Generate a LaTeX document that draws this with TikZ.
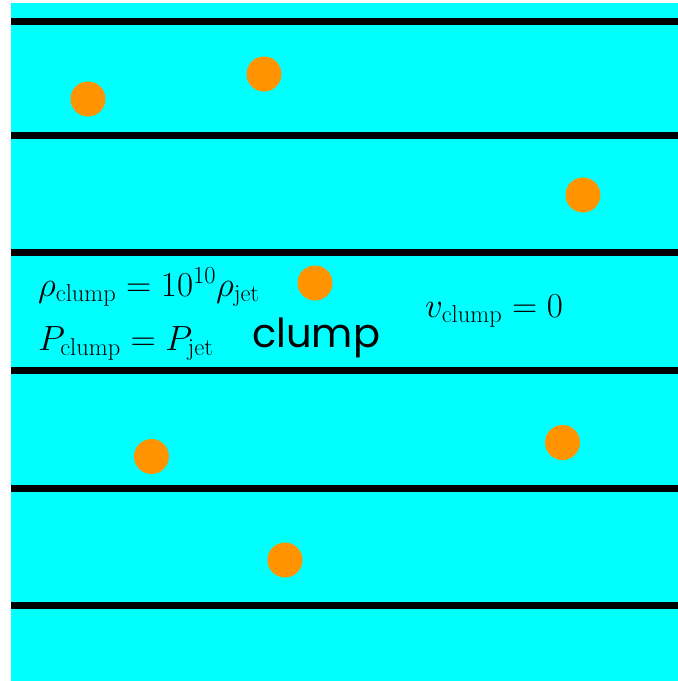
\RequirePackage{fix-cm}
\documentclass[tikz,border=0pt]{standalone}
\usepackage{fontspec}
\newfontfamily\comicfont{Poppins}
\definecolor{jetfill}{RGB}{0,255,255}
\definecolor{clumpfill}{RGB}{255,148,0}
\begin{document}
\begin{tikzpicture}[x=1pt, y=-1pt,
        band/.style = {line width=7pt, black},
        blob/.style = {fill=clumpfill},
        eqn/.style = {anchor=base west, inner sep=0pt, font=\fontsize{35}{40}\selectfont},
        word/.style = {anchor=base west, inner sep=0pt, font=\comicfont\fontsize{40}{46}\selectfont}
    ]
    \useasboundingbox (0,0) rectangle (678,681);
    % background
    \fill[jetfill] (11,3) rectangle (678,681);

    % horizontal lines
    \foreach \yy in {21.5, 135, 252.5, 370, 488, 605}
        \draw[band] (11,\yy) -- (678,\yy);

    % clumps
    \foreach \cx/\cy in {88/99, 264/74, 583/195, 315/283, 151.5/456.5, 562.5/442.5, 285/560}
        \fill[blob] (\cx,\cy) circle (17.5);

    % labels
    \node[eqn] (rho) at (38,296) {$\rho_{\rm clump}=10^{10}\rho_{\rm jet}$};
    \node[eqn] (pres) at (38,350) {$P_{\rm clump}=P_{\rm jet}$};
    \node[eqn] (vel) at (425,317) {$v_{\rm clump}=0$};
    \node[word] (name) at (252,347) {clump};
\end{tikzpicture}
\end{document}
